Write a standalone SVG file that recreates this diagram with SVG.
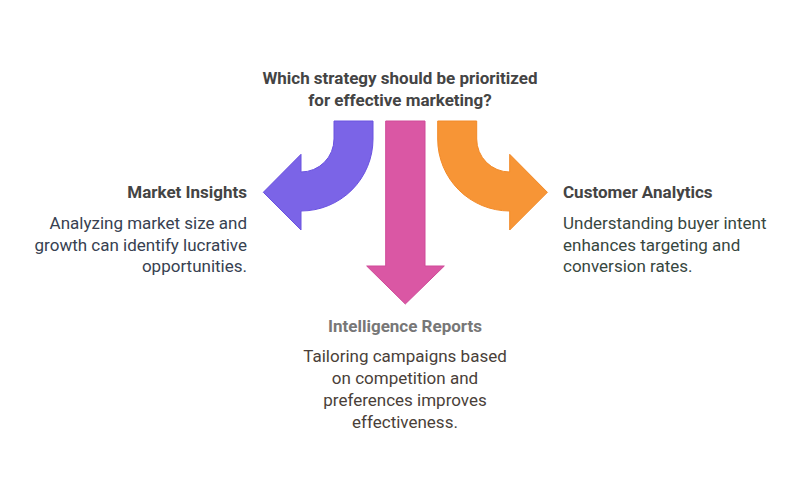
<svg xmlns="http://www.w3.org/2000/svg" width="800" height="499" viewBox="0 0 800 499">
<style>
text{font-family:Roboto,"Liberation Sans",sans-serif}
.q{font-size:17px;font-weight:bold;fill:#444444}
.h{font-size:17px;font-weight:bold}
.b{font-size:17px}
.arr{stroke-width:1;stroke-linejoin:miter}
</style>
<rect width="800" height="499" fill="#ffffff"/>
<g id="question">
<text class="q" x="400" y="84" text-anchor="middle">Which strategy should be prioritized</text>
<text class="q" x="400" y="106" text-anchor="middle">for effective marketing?</text>
</g>
<g id="connectors">
<path id="arrow-left" class="arr" fill="#7b64e7" stroke="#6a52e0" d="M334,121 H373 V139 A72,72 0 0 1 301,211 V230 L263.3,192.3 L301,154.3 V172 A33,33 0 0 0 334,139 Z"/>
<path id="arrow-down" class="arr" fill="#da57a4" stroke="#cf4a98" d="M385.7,121 H425 V266 H444.3 L405.3,304 L366.7,266 H385.7 Z"/>
<path id="arrow-right" class="arr" fill="#f79536" stroke="#f28a28" d="M437.7,121 H476.7 V139 A33,33 0 0 0 509.7,172 V154.3 L547.4,192.3 L509.7,230 V211 A72,72 0 0 1 437.7,139 Z"/>
</g>
<g id="market-insights" text-anchor="end">
<text class="h" x="247" y="198" fill="#444444">Market Insights</text>
<text class="b" x="247" y="228.5" fill="#374151">Analyzing market size and</text>
<text class="b" x="247" y="250.5" fill="#374151">growth can identify lucrative</text>
<text class="b" x="247" y="272" fill="#374151">opportunities.</text>
</g>
<g id="customer-analytics">
<text class="h" x="563" y="198" fill="#444444">Customer Analytics</text>
<text class="b" x="563" y="228.5" fill="#38473f">Understanding buyer intent</text>
<text class="b" x="563" y="250.5" fill="#38473f">enhances targeting and</text>
<text class="b" x="563" y="272" fill="#38473f">conversion rates.</text>
</g>
<g id="intelligence-reports" text-anchor="middle">
<text class="h" x="405" y="332" fill="#777777">Intelligence Reports</text>
<text class="b" x="405" y="362" fill="#4a3f39">Tailoring campaigns based</text>
<text class="b" x="405" y="384" fill="#4a3f39">on competition and</text>
<text class="b" x="405" y="406" fill="#4a3f39">preferences improves</text>
<text class="b" x="405" y="428" fill="#4a3f39">effectiveness.</text>
</g>
</svg>
